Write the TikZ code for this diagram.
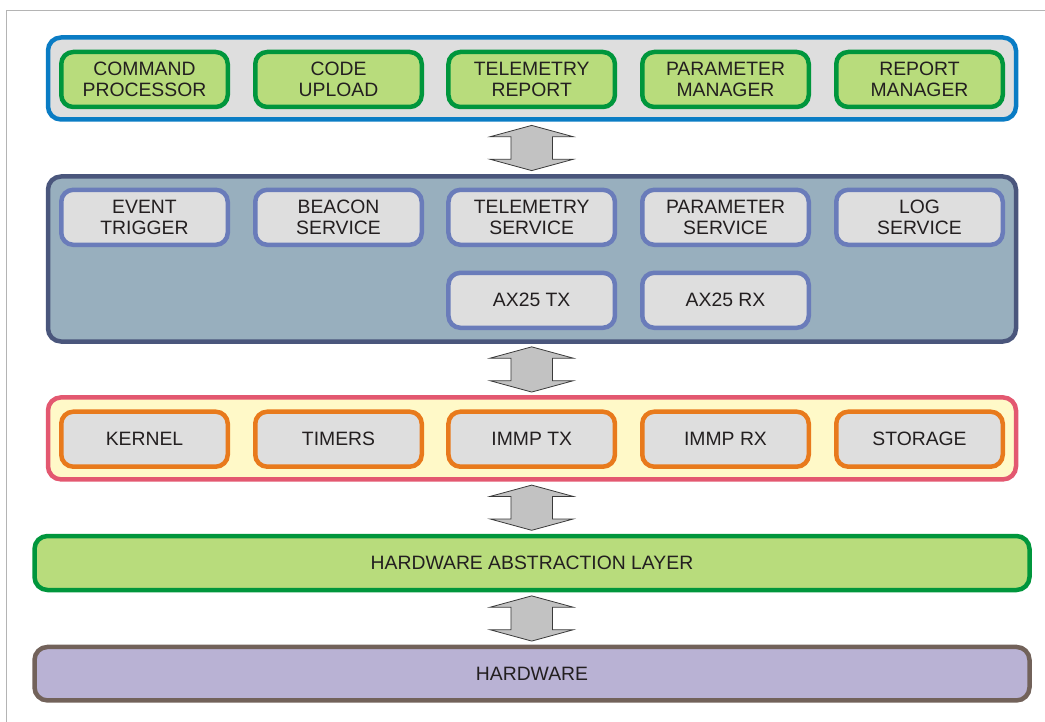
\documentclass[tikz,border=0pt]{standalone}
\usepackage{fontspec}
\setmainfont{Liberation Sans}
\usetikzlibrary{calc}
\definecolor{txt}{HTML}{231F20}
\definecolor{framecol}{HTML}{B4B4B4}
\definecolor{lgray}{HTML}{DEDEDE}
\definecolor{blueb}{HTML}{0A7CC4}
\definecolor{greenf}{HTML}{B8DC7C}
\definecolor{greenb}{HTML}{00963C}
\definecolor{slatef}{HTML}{98AFBE}
\definecolor{slateb}{HTML}{4A567C}
\definecolor{periwb}{HTML}{6A7CBA}
\definecolor{yellowf}{HTML}{FFF9C8}
\definecolor{pinkb}{HTML}{E35870}
\definecolor{orangeb}{HTML}{E87A1C}
\definecolor{lilacf}{HTML}{B9B2D4}
\definecolor{brownb}{HTML}{72625A}
\definecolor{arrowf}{HTML}{C2C2C2}
\definecolor{arrowb}{HTML}{3A3A3A}
\begin{document}
\begin{tikzpicture}[x=1pt,y=-1pt,
  layer/.style={draw, line width=4.5pt, rounded corners=13pt, outer sep=0pt, inner sep=0pt},
  lbl/.style={text=txt, font=\fontsize{19.35}{21.2}\selectfont},
  box/.style={draw, line width=4.5pt, rounded corners=12pt, minimum width=166.5pt, minimum height=55pt,
    inner sep=0pt, outer sep=0pt, align=center, lbl},
  greenbox/.style={box, fill=greenf, draw=greenb},
  slatebox/.style={box, fill=lgray, draw=periwb},
  orangebox/.style={box, fill=lgray, draw=orangeb},
  arrowstyle/.style={fill=arrowf, draw=arrowb, line width=0.8pt, line join=miter},
  dblarrow/.pic={\draw[arrowstyle] (0,-22.6) -- (41.5,-11.3) -- (20.8,-11.3) -- (20.8,11.3) -- (41.5,11.3)
     -- (0,22.6) -- (-41.5,11.3) -- (-20.8,11.3) -- (-20.8,-11.3) -- (-41.5,-11.3) -- cycle;}
]
\useasboundingbox (0,0) rectangle (1045,722);
\draw[framecol, line width=1.2pt] (6.5,722) -- (6.5,10.5) -- (1045,10.5);

% Layer 1
\node[layer, fill=lgray, draw=blueb, minimum width=968pt, minimum height=82pt] (L1) at (532,78.5) {};
\node[greenbox] (cp) at (144.5,79.5) {COMMAND\\PROCESSOR};
\node[greenbox] (cu) at (338.5,79.5) {CODE\\UPLOAD};
\node[greenbox] (tr) at (531.7,79.5) {TELEMETRY\\REPORT};
\node[greenbox] (pm) at (725.5,79.5) {PARAMETER\\MANAGER};
\node[greenbox] (rm) at (919.5,79.5) {REPORT\\MANAGER};

% Layer 2
\node[layer, fill=slatef, draw=slateb, minimum width=968pt, minimum height=165pt] (L2) at (532,259) {};
\node[slatebox] (et) at (144.5,217.3) {EVENT\\TRIGGER};
\node[slatebox] (bs) at (338.5,217.3) {BEACON\\SERVICE};
\node[slatebox] (ts) at (531.7,217.3) {TELEMETRY\\SERVICE};
\node[slatebox] (ps) at (725.5,217.3) {PARAMETER\\SERVICE};
\node[slatebox] (ls) at (919.5,217.3) {LOG\\SERVICE};
\node[slatebox] (atx) at (531.7,300.3) {AX25 TX};
\node[slatebox] (arx) at (725.5,300.3) {AX25 RX};

% Layer 3
\node[layer, fill=yellowf, draw=pinkb, minimum width=968pt, minimum height=82pt] (L3) at (532,438.4) {};
\node[orangebox] (k) at (144.5,439.2) {KERNEL};
\node[orangebox] (t) at (338.5,439.2) {TIMERS};
\node[orangebox] (itx) at (531.7,439.2) {IMMP TX};
\node[orangebox] (irx) at (725.5,439.2) {IMMP RX};
\node[orangebox] (st) at (919.5,439.2) {STORAGE};

% HAL
\node[layer, fill=greenf, draw=greenb, minimum width=995pt, minimum height=54pt, lbl] (HAL) at (532,563) {HARDWARE ABSTRACTION LAYER};

% Hardware
\node[layer, fill=lilacf, draw=brownb, minimum width=995pt, minimum height=53.5pt, lbl] (HW) at (532,673.7) {HARDWARE};

% Double arrows between layers
\pic at ($(L1.south)!0.5!(L2.north)+(-0.3,0)$) {dblarrow};
\pic at ($(L2.south)!0.5!(L3.north)+(-0.3,0)$) {dblarrow};
\pic at ($(L3.south)!0.5!(HAL.north)+(-0.3,0)$) {dblarrow};
\pic at ($(HAL.south)!0.5!(HW.north)+(-0.3,0)$) {dblarrow};
\end{tikzpicture}
\end{document}
